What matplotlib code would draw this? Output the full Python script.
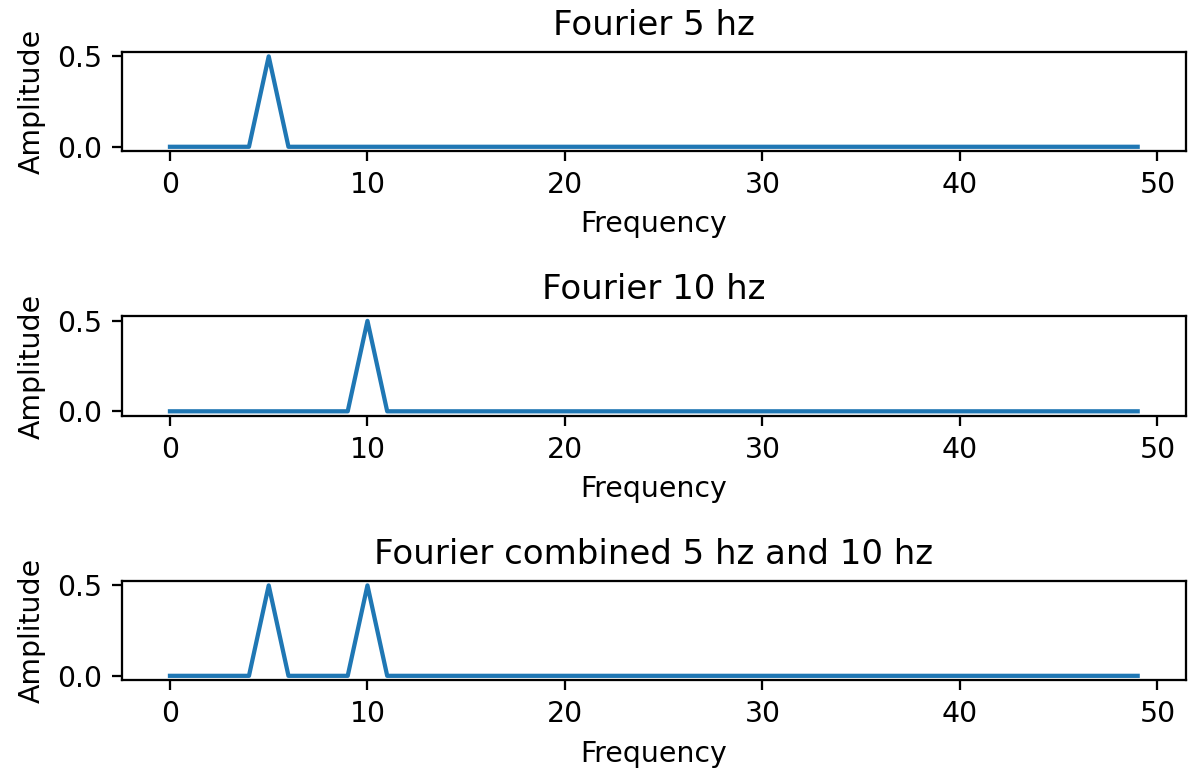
import numpy as np
import matplotlib
matplotlib.use("Agg")
import matplotlib.pyplot as plt

# amplitude spectra, bins 0..49
freqs = list(range(50))
amp_5hz = [0.0] * 50
amp_5hz[5] = 0.5
amp_10hz = [0.0] * 50
amp_10hz[10] = 0.5
amp_combined = [0.0] * 50
amp_combined[5] = 0.5
amp_combined[10] = 0.5

titles = ["Fourier 5 hz", "Fourier 10 hz", "Fourier combined 5 hz and 10 hz"]


def main():
    dpi = 204
    fig, axes = plt.subplots(3, 1, figsize=(1192 / dpi, 774 / dpi), dpi=dpi)
    for ax, amp, title in zip(axes, [amp_5hz, amp_10hz, amp_combined], titles):
        ax.plot(freqs, amp)
        ax.set_title(title)
        ax.set_xlabel("Frequency")
        ax.set_ylabel("Amplitude")
    fig.subplots_adjust(left=0.102, right=0.995, top=0.933, bottom=0.121, hspace=1.66)
    fig.savefig("out.png", dpi=dpi)


if __name__ == "__main__":
    main()
